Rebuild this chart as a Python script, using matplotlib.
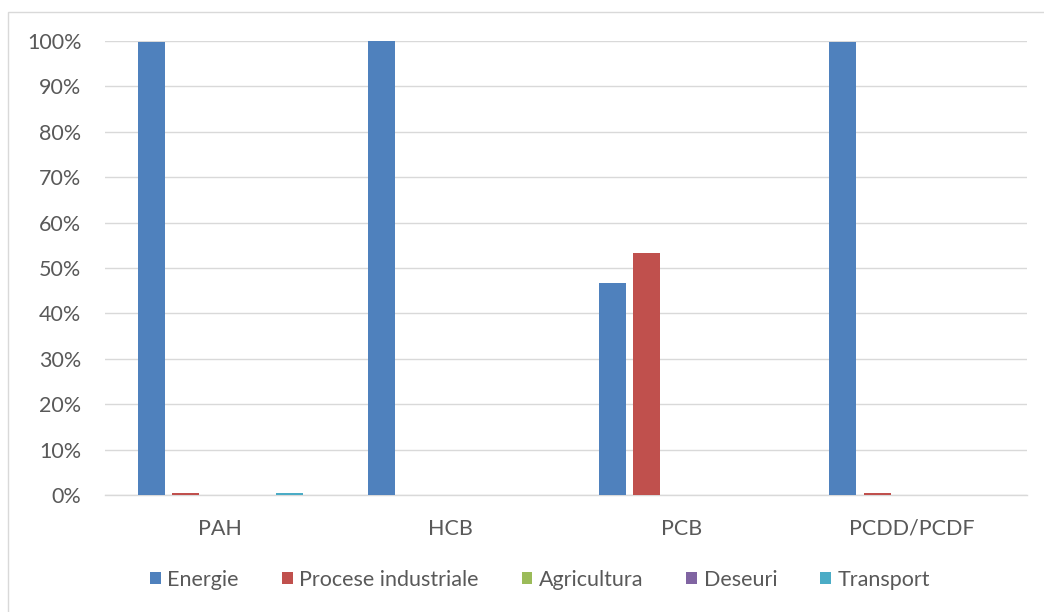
import numpy as np
import matplotlib
matplotlib.use("Agg")
import matplotlib.pyplot as plt
from matplotlib.patches import Rectangle
from matplotlib.ticker import PercentFormatter

categories = ["PAH", "HCB", "PCB", "PCDD/PCDF"]
series = ["Energie", "Procese industriale", "Agricultura", "Deseuri", "Transport"]
colors = ["#4F81BD", "#C0504D", "#9BBB59", "#8064A2", "#4BACC6"]

energie = [0.998, 1.0, 0.466, 0.998]
procese = [0.005, 0.0, 0.534, 0.005]
agricultura = [0.0, 0.0, 0.0, 0.0]
deseuri = [0.0, 0.0, 0.0, 0.0]
transport = [0.005, 0.0, 0.0, 0.0]
values = [energie, procese, agricultura, deseuri, transport]

plt.rcParams['font.family'] = ['Lato', 'DejaVu Sans']
txt = "#595959"

fig = plt.figure(figsize=(10.44, 6.12), dpi=100)
fig.patches.append(Rectangle((8 / 1044, -0.1), 1.2, 1.1 - 12 / 612, transform=fig.transFigure,
                             fill=False, edgecolor="#D9D9D9", linewidth=1))
ax = fig.add_axes([105 / 1044, 1 - 495 / 612, 922 / 1044, 454 / 612])

x = np.arange(len(categories))
slot = 0.15
width = 0.117
for i, (name, vals) in enumerate(zip(series, values)):
    ax.bar(x + (i - 2) * slot, vals, width, color=colors[i], label=name, zorder=3)

ax.set_xlim(-0.5, len(categories) - 0.5)
ax.set_ylim(0, 1.0)
ax.set_yticks(np.arange(0, 1.01, 0.1))
ax.yaxis.set_major_formatter(PercentFormatter(1.0, decimals=0))
ax.set_xticks(x)
ax.set_xticklabels(categories)
ax.grid(axis="y", color="#D9D9D9", linewidth=1, zorder=0)
ax.set_axisbelow(True)
for s in ["top", "right", "left"]:
    ax.spines[s].set_visible(False)
ax.spines["bottom"].set_color("#D9D9D9")
ax.spines["bottom"].set_linewidth(1)
ax.tick_params(axis="both", length=0, labelsize=15.5, colors=txt)
ax.tick_params(axis="y", pad=17)
ax.tick_params(axis="x", pad=17)

leg = fig.legend(loc="center", bbox_to_anchor=(540 / 1044, 1 - 580 / 612), ncol=5, frameon=False,
                 fontsize=15.5, handlelength=0.5, handleheight=0.5, handletextpad=0.3,
                 columnspacing=2.0, labelcolor=txt)

fig.savefig("out.png", dpi=100)
